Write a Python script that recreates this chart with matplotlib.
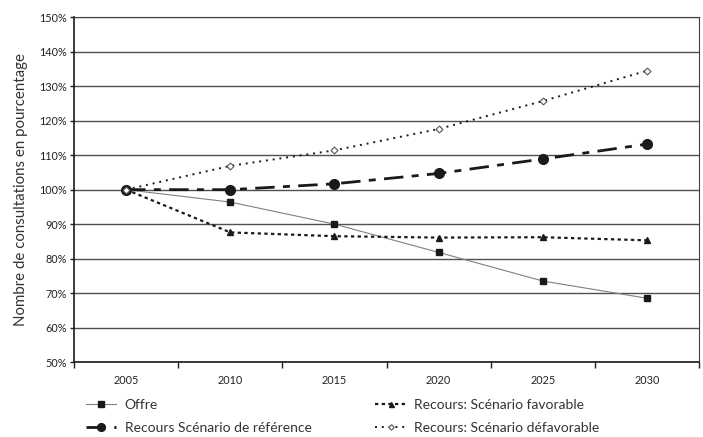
import matplotlib
matplotlib.use("Agg")
import matplotlib.pyplot as plt
import numpy as np

plt.rcParams['font.family'] = ['Lato', 'DejaVu Sans']

years = ["2005", "2010", "2015", "2020", "2025", "2030"]
offre = [100, 96.4, 90.0, 81.8, 73.5, 68.5]
reference = [100, 100.0, 101.7, 104.7, 108.9, 113.2]
favorable = [100, 87.6, 86.5, 86.1, 86.2, 85.3]
defavorable = [100, 106.9, 111.4, 117.6, 125.7, 134.5]
yticks = [50, 60, 70, 80, 90, 100, 110, 120, 130, 140, 150]

fig = plt.figure(figsize=(7.03, 4.37), dpi=100)
ax = fig.add_axes([0.1053, 0.1716, 0.8890, 0.7888])
x = np.arange(len(years))

for yv in yticks:
    ax.axhline(yv, color='#505050', lw=1.0, zorder=0)

ax.plot(x, offre, color='#808080', lw=0.8, marker='s', ms=5,
        mfc='#1a1a1a', mec='#1a1a1a', label='Offre', zorder=2)
ax.plot(x, reference, color='#1a1a1a', lw=2.0, ls=(0, (7, 3, 2.5, 3)), marker='o', ms=7,
        mfc='#1a1a1a', mec='#1a1a1a', label='Recours Scénario de référence', zorder=3)
ax.plot(x, favorable, color='#1a1a1a', lw=1.6, ls=(0, (1.5, 1.5)), marker='^', ms=4.5,
        mfc='#1a1a1a', mec='#1a1a1a', label='Recours: Scénario favorable', zorder=4)
ax.plot(x, defavorable, color='#1a1a1a', lw=1.4, ls=(0, (1, 2.5)), marker='D', ms=3.5,
        mfc='white', mec='#555555', mew=0.8, label='Recours: Scénario défavorable', zorder=5)

ax.set_xlim(-0.5, 5.5)
ax.set_ylim(50, 150)
ax.set_yticks(yticks)
ax.set_yticklabels([f"{v}%" for v in yticks], fontsize=7.8, color='#222222')
ax.set_xticks(np.arange(-0.5, 6.0, 1.0))
ax.set_xticklabels([])
ax.set_xticks(x, minor=True)
ax.set_xticklabels(years, minor=True, fontsize=7.8, color='#222222')
ax.tick_params(axis='x', which='major', length=4, width=1, direction='out', color='#222222')
ax.tick_params(axis='x', which='minor', length=0, pad=9)
ax.tick_params(axis='y', length=3, width=1, direction='out', color='#222222', pad=2)

ax.spines['left'].set_color('#1a1a1a')
ax.spines['left'].set_linewidth(1.2)
ax.spines['bottom'].set_color('#1a1a1a')
ax.spines['bottom'].set_linewidth(1.2)
ax.spines['top'].set_color('#404040')
ax.spines['right'].set_color('#404040')

ax.set_ylabel("Nombre de consultations en pourcentage", fontsize=10.8, color='#333333', labelpad=8)

leg = fig.legend(loc='lower left', bbox_to_anchor=(0.104, -0.022), ncol=2, frameon=False,
                 fontsize=10, handlelength=2.2, columnspacing=4.6, labelspacing=0.78,
                 handletextpad=0.6, markerscale=0.8)
for t in leg.get_texts():
    t.set_color('#333333')

fig.savefig("out.png", dpi=100)
